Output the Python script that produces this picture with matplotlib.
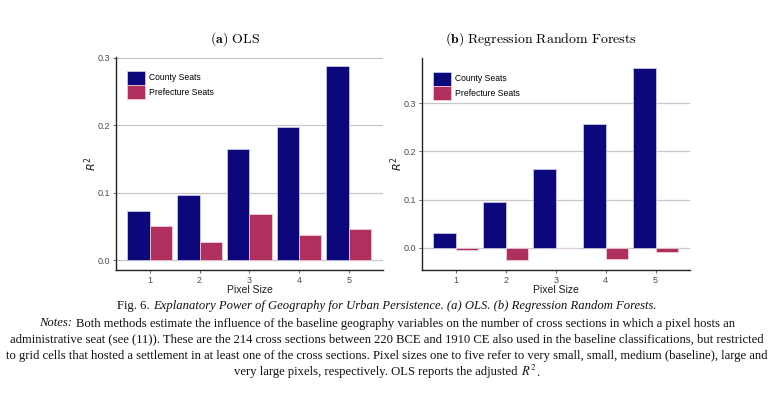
import matplotlib
matplotlib.use("Agg")
import matplotlib.pyplot as plt
import numpy as np
from matplotlib.patches import Patch

pixel_sizes = [1, 2, 3, 4, 5]
ols_county = [0.073, 0.097, 0.165, 0.197, 0.287]
ols_prefecture = [0.051, 0.027, 0.069, 0.038, 0.046]
rf_county = [0.030, 0.096, 0.164, 0.256, 0.374]
rf_prefecture = [-0.004, -0.026, -0.0005, -0.023, -0.008]
series_labels = ["County Seats", "Prefecture Seats"]
colors = ["#0C087C", "#B02F5E"]

plt.rcParams["font.family"] = ["Liberation Sans", "DejaVu Sans"]
plt.rcParams["mathtext.fontset"] = "cm"

fig = plt.figure(figsize=(7.74, 3.96), dpi=100)
W, H = 774, 396

def ax_at(l, t, r, b):
    return fig.add_axes([l / W, 1 - b / H, (r - l) / W, (b - t) / H])

panels = [
    (ax_at(116, 57, 383, 270), ols_county, ols_prefecture, (-0.0144, 0.301), [0.0, 0.1, 0.2, 0.3],
     r"$\mathbf{(a)}\ \mathrm{OLS}$", 235),
    (ax_at(422, 58, 690, 270), rf_county, rf_prefecture, (-0.046, 0.394), [0.0, 0.1, 0.2, 0.3],
     r"$\mathbf{(b)}\ \mathrm{Regression\ Random\ Forests}$", 541),
]

x = np.array(pixel_sizes, dtype=float)
w = 0.45
for ax, county, pref, ylim, yt, title, tx in panels:
    ax.set_axisbelow(True)
    ax.yaxis.grid(True, color="#C8C8C8", linewidth=0.9)
    ax.bar(x - w / 2, county, width=w, color=colors[0], edgecolor="#D8D4F0", linewidth=0.5)
    ax.bar(x + w / 2, pref, width=w, color=colors[1], edgecolor="#F0D8E0", linewidth=0.5)
    ax.set_ylim(*ylim)
    ax.set_xlim(0.32, 5.69)
    ax.set_yticks(yt)
    ax.set_yticklabels([f"{v:.1f}" for v in yt])
    ax.set_xticks(pixel_sizes)
    ax.set_xticklabels([str(p) for p in pixel_sizes])
    ax.tick_params(axis="both", labelsize=6.5, colors="#4D4D4D", length=2.5, width=0.6, pad=2)
    for s in ["top", "right"]:
        ax.spines[s].set_visible(False)
    for s in ["left", "bottom"]:
        ax.spines[s].set_color("#222222")
        ax.spines[s].set_linewidth(1.0)
    ax.set_xlabel("Pixel Size", fontsize=7.5, color="#1A1A1A", labelpad=0)
    ax.set_ylabel(r"$R^2$", fontsize=8, color="#1A1A1A", math_fontfamily="dejavusans", labelpad=-1)
    fig.text(tx / W, 1 - 39 / H, title, fontsize=10, ha="center", va="center")
    handles = [Patch(facecolor=colors[0], edgecolor="#D8D4F0", linewidth=0.5),
               Patch(facecolor=colors[1], edgecolor="#F0D8E0", linewidth=0.5)]
    ax.legend(handles, series_labels, loc="upper left", bbox_to_anchor=(0.02, 0.96),
              frameon=False, fontsize=6.2, handlelength=2.1, handleheight=2.1,
              handletextpad=0.5, labelspacing=0.05, borderaxespad=0.2)

cap_lines = [
    [("Fig. 6.", "n"), ("Explanatory Power of Geography for Urban Persistence. (a) OLS. (b) Regression Random Forests.", "i")],
    [("Notes:", "i"), ("Both methods estimate the influence of the baseline geography variables on the number of cross sections in which a pixel hosts an", "n")],
    [("administrative seat (see (11)). These are the 214 cross sections between 220 BCE and 1910 CE also used in the baseline classifications, but restricted", "n")],
    [("to grid cells that hosted a settlement in at least one of the cross sections. Pixel sizes one to five refer to very small, small, medium (baseline), large and", "n")],
    [("very large pixels, respectively. OLS reports the adjusted", "n"), (r"$R^2$", "m"), (".", "g")],
]
cap_y = [306, 323, 339, 355, 372]
fs = 9.05
renderer = fig.canvas.get_renderer()

def make(s, style):
    kw = dict(fontsize=fs, family="Liberation Serif", color="#111111", va="baseline", ha="left")
    if style == "i":
        kw["style"] = "italic"
    if style == "m":
        kw["math_fontfamily"] = "stix"
    return fig.text(0, 0, s, **kw)

t1 = make("x x", "n"); t2 = make("xx", "n")
space = (t1.get_window_extent(renderer).width - t2.get_window_extent(renderer).width)
t1.remove(); t2.remove()

for segs, y in zip(cap_lines, cap_y):
    objs = [make(s, st) for s, st in segs]
    widths = [o.get_window_extent(renderer).width for o in objs]
    gaps = [0 if st == "g" else space for s, st in segs]
    gaps[0] = 0
    total = sum(widths) + sum(gaps)
    xpos = W / 2 - total / 2
    for o, wd, g in zip(objs, widths, gaps):
        xpos += g
        o.set_position((xpos / W, 1 - (y + 3.5) / H))
        xpos += wd

fig.savefig("out.png", dpi=100, facecolor="white")
